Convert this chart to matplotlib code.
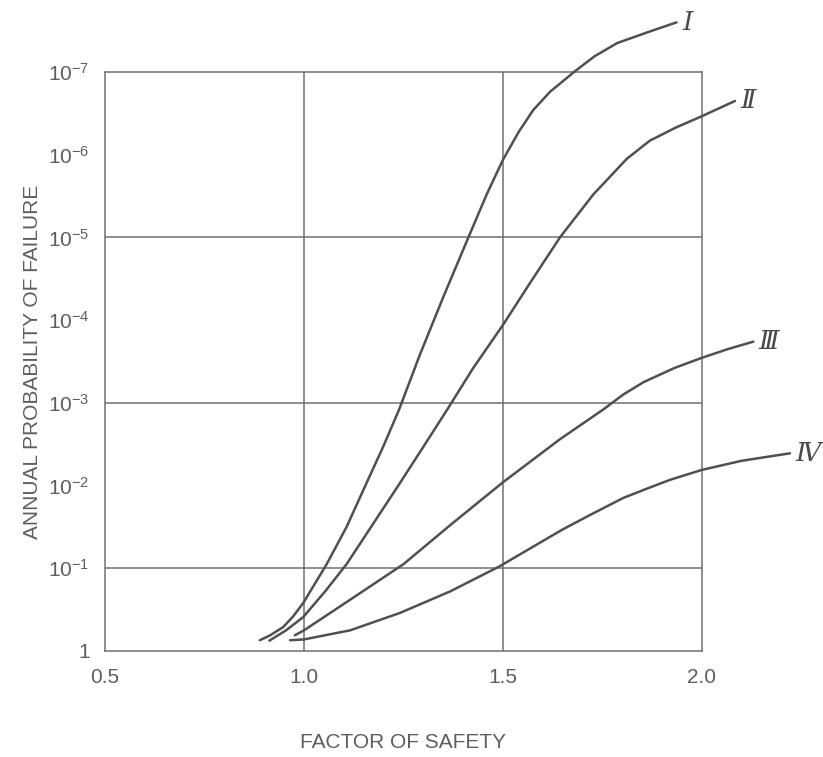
import numpy as np
import matplotlib
matplotlib.use('Agg')
import matplotlib.pyplot as plt

# factor of safety and log10(annual probability of failure)
fs_I = [0.889, 0.915, 0.948, 0.973, 0.998, 1.057, 1.107, 1.157, 1.199, 1.239, 1.291, 1.350,
        1.413, 1.459, 1.500, 1.540, 1.576, 1.618, 1.681, 1.730, 1.787, 1.869, 1.936]
lp_I = [-0.13, -0.19, -0.29, -0.42, -0.58, -1.05, -1.50, -2.03, -2.47, -2.92, -3.58, -4.28,
        -5.00, -5.52, -5.94, -6.28, -6.54, -6.76, -7.01, -7.19, -7.35, -7.49, -7.60]

fs_II = [0.913, 0.955, 0.998, 1.053, 1.107, 1.174, 1.241, 1.300, 1.360, 1.425, 1.501, 1.568,
         1.643, 1.727, 1.811, 1.869, 1.935, 1.997, 2.083]
lp_II = [-0.125, -0.25, -0.41, -0.72, -1.05, -1.54, -2.03, -2.47, -2.92, -3.42, -3.95, -4.45,
         -5.00, -5.52, -5.95, -6.17, -6.33, -6.46, -6.65]

fs_III = [0.977, 1.0, 1.116, 1.250, 1.367, 1.5, 1.643, 1.752, 1.802, 1.853, 1.930, 1.997,
          2.065, 2.129]
lp_III = [-0.19, -0.25, -0.62, -1.05, -1.52, -2.04, -2.56, -2.92, -3.10, -3.25, -3.42, -3.54,
          -3.65, -3.74]

fs_IV = [0.965, 1.0, 1.116, 1.241, 1.367, 1.49, 1.65, 1.725, 1.802, 1.86, 1.92, 2.0, 2.1, 2.221]
lp_IV = [-0.13, -0.14, -0.25, -0.46, -0.72, -1.02, -1.47, -1.66, -1.85, -1.96, -2.07, -2.19,
         -2.30, -2.39]

curve_names = ['\u2160', '\u2161', '\u2162', '\u2163']

x_ticks = [0.5, 1.0, 1.5, 2.0]
x_ticklabels = ['0.5', '1.0', '1.5', '2.0']
y_exps = [0, -1, -2, -3, -4, -5, -6, -7]
x_grid = [1.0, 1.5]
y_grid = [1e-1, 1e-3, 1e-5]

sans = ['Liberation Sans', 'DejaVu Sans']
txt_col = '#5e5e5e'
line_col = '#505050'
grid_col = '#707070'

fig = plt.figure(figsize=(8.23, 7.57), dpi=100)
ax = fig.add_axes([105/823, 1-651/757, 597/823, 579/757])

for fs, lp, name in zip([fs_I, fs_II, fs_III, fs_IV], [lp_I, lp_II, lp_III, lp_IV], curve_names):
    p = 10 ** np.array(lp)
    ax.plot(fs, p, color=line_col, lw=1.8, clip_on=False, solid_capstyle='round',
            solid_joinstyle='round', zorder=3)
    ax.annotate(name, (fs[-1], p[-1]), xytext=(4, 0), textcoords='offset points',
                ha='left', va='center', fontsize=19, style='italic',
                family=['DejaVu Serif', 'DejaVu Sans'], color='#4a4a4a',
                annotation_clip=False)

for xg in x_grid:
    ax.axvline(xg, color=grid_col, lw=1.1, zorder=1)
for yg in y_grid:
    ax.axhline(yg, color=grid_col, lw=1.1, zorder=1)

ax.set_yscale('log')
ax.set_xlim(0.5, 2.0)
ax.set_ylim(1, 1e-7)
ax.set_xticks(x_ticks)
ax.set_xticklabels(x_ticklabels)
ax.set_yticks([10.0 ** e for e in y_exps])
ax.set_yticklabels(['1' if e == 0 else r'$\mathregular{10^{%d}}$' % e for e in y_exps])
ax.minorticks_off()
ax.tick_params(length=0, labelsize=15, labelcolor=txt_col)
ax.tick_params(axis='x', pad=12)
ax.tick_params(axis='y', pad=11)
for lab in ax.get_xticklabels() + ax.get_yticklabels():
    lab.set_family(sans)

for s in ax.spines.values():
    s.set_color(grid_col)
    s.set_linewidth(1.1)

ax.set_xlabel('FACTOR OF SAFETY', fontsize=15, color=txt_col, family=sans, labelpad=33)
ax.set_ylabel('ANNUAL PROBABILITY OF FAILURE', fontsize=15, color=txt_col, family=sans, labelpad=4)

fig.savefig('out.png', dpi=100)
